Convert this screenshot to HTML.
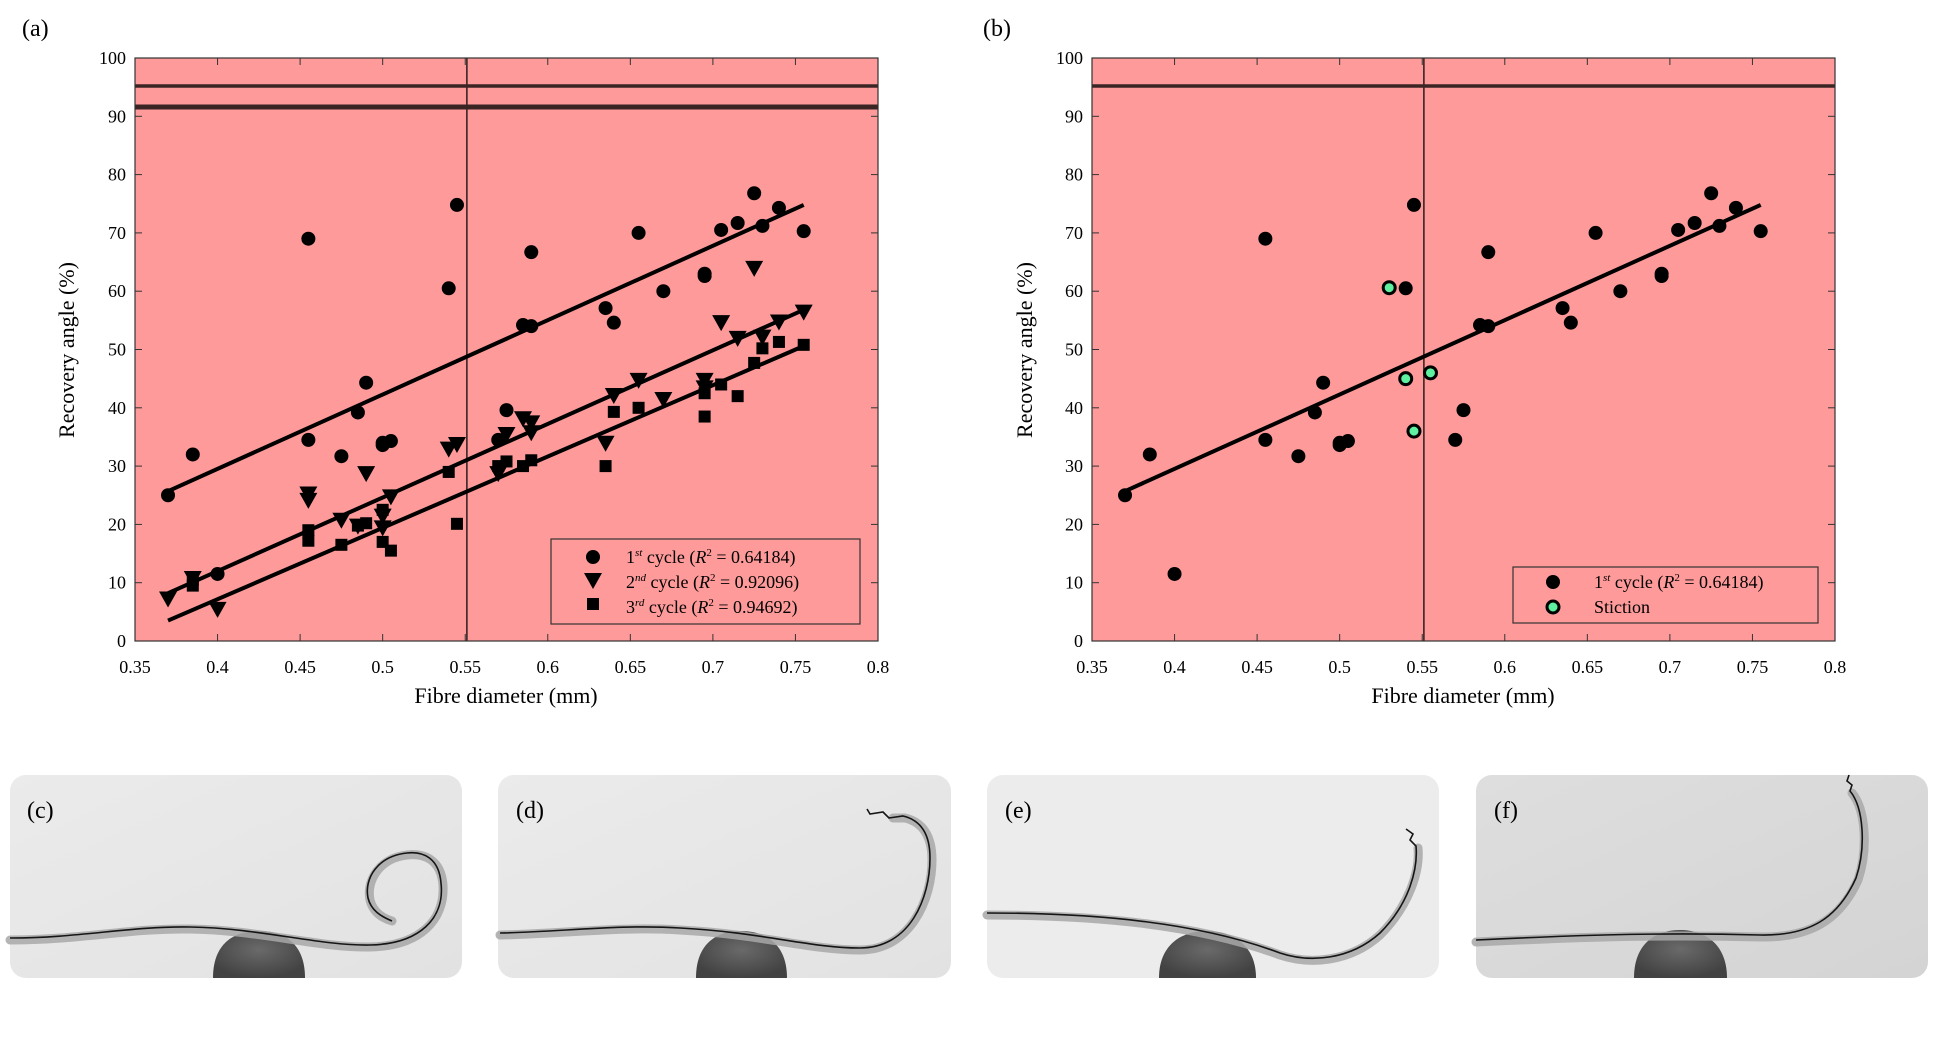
<!DOCTYPE html>
<html><head><meta charset="utf-8"><style>
html,body{margin:0;padding:0;background:#fff;}
svg{display:block;font-family:"Liberation Serif",serif;}
</style></head><body>
<svg id="s" width="1934" height="1042" viewBox="0 0 1934 1042" xmlns="http://www.w3.org/2000/svg">
<defs>
<linearGradient id="bgc" x1="0" y1="0" x2="1" y2="1"><stop offset="0" stop-color="#ebebeb"/><stop offset="1" stop-color="#e2e2e2"/></linearGradient>
<linearGradient id="bgf" x1="0" y1="0" x2="1" y2="1"><stop offset="0" stop-color="#dedede"/><stop offset="1" stop-color="#d4d4d4"/></linearGradient>
<radialGradient id="sph" cx="0.5" cy="0.4" r="0.6"><stop offset="0" stop-color="#6a6a6a"/><stop offset="1" stop-color="#424242"/></radialGradient>
</defs>
<g id="pa"></g><g id="pb"></g>
<text x="22" y="36" font-size="24">(a)</text>
<text x="983" y="36" font-size="24">(b)</text>
<g font-size="18" text-anchor="end" id="ytl"></g>
<g font-size="18" text-anchor="middle" id="xtl"></g>
<text x="506" y="703" font-size="22" text-anchor="middle">Fibre diameter (mm)</text>
<text x="1463" y="703" font-size="22" text-anchor="middle">Fibre diameter (mm)</text>
<text transform="translate(74,350) rotate(-90)" font-size="22" text-anchor="middle">Recovery angle (%)</text>
<text transform="translate(1032,350) rotate(-90)" font-size="22" text-anchor="middle">Recovery angle (%)</text>
<rect x="551" y="539" width="309" height="85" fill="none" stroke="#333" stroke-width="1.2"/>
<circle cx="593" cy="557" r="7"/>
<path d="M584,573 L602,573 L593,589 Z"/>
<rect x="587" y="598" width="12" height="12"/>
<text x="626" y="563" font-size="18">1<tspan font-size="11" dy="-7" font-style="italic">st</tspan><tspan dy="7"> cycle (</tspan><tspan font-style="italic">R</tspan><tspan font-size="11" dy="-7">2</tspan><tspan dy="7"> = 0.64184)</tspan></text>
<text x="626" y="588" font-size="18">2<tspan font-size="11" dy="-7" font-style="italic">nd</tspan><tspan dy="7"> cycle (</tspan><tspan font-style="italic">R</tspan><tspan font-size="11" dy="-7">2</tspan><tspan dy="7"> = 0.92096)</tspan></text>
<text x="626" y="613" font-size="18">3<tspan font-size="11" dy="-7" font-style="italic">rd</tspan><tspan dy="7"> cycle (</tspan><tspan font-style="italic">R</tspan><tspan font-size="11" dy="-7">2</tspan><tspan dy="7"> = 0.94692)</tspan></text>
<rect x="1513" y="567" width="305" height="56" fill="none" stroke="#333" stroke-width="1.2"/>
<circle cx="1553" cy="582" r="7"/>
<circle cx="1553" cy="607" r="6" fill="#5ef0a0" stroke="#000" stroke-width="3"/>
<text x="1594" y="588" font-size="18">1<tspan font-size="11" dy="-7" font-style="italic">st</tspan><tspan dy="7"> cycle (</tspan><tspan font-style="italic">R</tspan><tspan font-size="11" dy="-7">2</tspan><tspan dy="7"> = 0.64184)</tspan></text>
<text x="1594" y="613" font-size="18">Stiction</text>

<g>
<rect x="10" y="775" width="452" height="203" rx="16" fill="url(#bgc)"/>
<rect x="498" y="775" width="453" height="203" rx="16" fill="url(#bgc)"/>
<rect x="987" y="775" width="452" height="203" rx="16" fill="#ececec"/>
<rect x="1476" y="775" width="452" height="203" rx="16" fill="url(#bgf)"/>
<path d="M213,978 C213,945 232,931 259,931 C286,931 305,945 305,978 Z" fill="url(#sph)"/>
<path d="M696,978 C696,945 715,931 741,931 C767,931 787,945 787,978 Z" fill="url(#sph)"/>
<path d="M1159,978 C1159,946 1180,931 1207,931 C1234,931 1256,946 1256,978 Z" fill="url(#sph)"/>
<path d="M1634,978 C1634,945 1654,930 1680,930 C1706,930 1727,945 1727,978 Z" fill="url(#sph)"/>
<g fill="none" stroke="#a8a8a8" stroke-width="9" stroke-linecap="round" opacity="0.85">
<path d="M10,940 C80,940 130,928 190,929 C260,930 320,948 370,947 C420,946 445,920 443,885 C441,860 425,853 407,855 C380,858 366,880 370,900 C373,912 382,918 392,921"/>
<path d="M500,935 C560,934 620,926 680,930 C760,934 810,950 860,950 C910,950 932,900 932,860 C932,835 922,822 905,818 L893,818"/>
<path d="M987,915 C1100,915 1200,925 1280,955 C1310,965 1350,962 1380,935 C1410,905 1420,870 1418,848"/>
<path d="M1476,942 C1560,938 1650,934 1760,937 C1810,938 1840,920 1858,880 C1868,850 1866,810 1852,793"/>
</g>
<g fill="none" stroke="#151515" stroke-width="1.6">
<path d="M10,938 C80,938 130,926 190,927 C260,928 320,946 370,945 C420,944 445,918 441,883 C439,858 423,851 407,853 C378,856 364,878 368,898 C371,910 380,916 392,921"/>
<path d="M500,933 C560,932 620,924 680,928 C760,932 810,948 860,948 C910,948 930,898 930,858 C930,833 920,820 903,816 L889,818 L883,812 L870,814 L867,809"/>
<path d="M987,913 C1100,913 1200,923 1280,953 C1310,963 1350,960 1380,933 C1410,903 1418,868 1416,846 L1410,840 L1413,834 L1406,829"/>
<path d="M1476,940 C1560,936 1650,932 1760,935 C1810,936 1838,918 1856,878 C1866,848 1864,808 1850,791 L1852,785 L1847,781 L1849,775"/>
</g>
<g font-size="24"><text x="27" y="818">(c)</text><text x="516" y="818">(d)</text><text x="1005" y="818">(e)</text><text x="1494" y="818">(f)</text></g>
</g>
</svg>
<script>
var NS="http://www.w3.org/2000/svg";
function el(p,t,a){var e=document.createElementNS(NS,t);for(var k in a)e.setAttribute(k,a[k]);p.appendChild(e);return e;}
var T=58,B=641,H=B-T,W=743;
var c1=[[0.37,25],[0.385,32],[0.4,11.5],[0.455,69],[0.455,34.5],[0.475,31.7],[0.485,39.2],[0.49,44.3],[0.5,34],[0.5,33.6],[0.505,34.3],[0.54,60.5],[0.545,74.8],[0.57,34.5],[0.575,39.6],[0.585,54.2],[0.59,54],[0.59,66.7],[0.635,57.1],[0.64,54.6],[0.655,70],[0.67,60],[0.695,63],[0.695,62.6],[0.705,70.5],[0.715,71.7],[0.725,76.8],[0.73,71.2],[0.74,74.3],[0.755,70.3]];
var c2=[[0.37,7.3],[0.385,10.8],[0.4,5.5],[0.455,25.3],[0.455,24.2],[0.475,20.8],[0.485,19.8],[0.49,28.8],[0.5,21.5],[0.5,19.5],[0.505,24.8],[0.54,33],[0.545,33.8],[0.57,28.8],[0.575,35.5],[0.585,38.2],[0.59,37.5],[0.59,35.8],[0.635,34],[0.64,42.2],[0.655,44.8],[0.67,41.5],[0.695,44.8],[0.695,43.5],[0.705,54.7],[0.715,52],[0.725,64],[0.73,52.2],[0.74,54.8],[0.755,56.5]];
var c3=[[0.385,9.5],[0.385,10.5],[0.455,19],[0.455,17.2],[0.475,16.5],[0.485,19.8],[0.49,20.2],[0.5,22.5],[0.5,17],[0.505,15.5],[0.54,29],[0.545,20.1],[0.575,30.8],[0.57,30],[0.585,30],[0.59,31],[0.635,30],[0.64,39.3],[0.655,40],[0.695,38.5],[0.695,42.5],[0.705,44],[0.715,42],[0.725,47.7],[0.73,50.2],[0.74,51.3],[0.755,50.8]];
var st=[[0.53,60.6],[0.54,45],[0.545,36],[0.555,46]];
function plot(g,L,isA){
 var X=function(v){return L+(v-0.35)/0.45*W},Y=function(v){return B-v/100*H};
 el(g,"rect",{x:L,y:T,width:W,height:H,fill:"#fe9a9a"});
 el(g,"line",{x1:L,x2:L+W,y1:Y(95.2),y2:Y(95.2),stroke:"#3b2424","stroke-width":3.5});
 if(isA)el(g,"line",{x1:L,x2:L+W,y1:Y(91.6),y2:Y(91.6),stroke:"#3b2424","stroke-width":5});
 el(g,"line",{x1:X(0.551),x2:X(0.551),y1:T,y2:B,stroke:"#3b2424","stroke-width":1.6});
 for(var i=0;i<=10;i++){var y=Y(i*10);el(g,"line",{x1:L,x2:L+7,y1:y,y2:y,stroke:"#333"});el(g,"line",{x1:L+W,x2:L+W-7,y1:y,y2:y,stroke:"#333"});
  var t=el(document.getElementById("ytl"),"text",{x:L-9,y:y+6});t.textContent=String(i*10);}
 var xl=["0.35","0.4","0.45","0.5","0.55","0.6","0.65","0.7","0.75","0.8"];
 for(var i=0;i<10;i++){var x=X(0.35+i*0.05);el(g,"line",{x1:x,x2:x,y1:B,y2:B-7,stroke:"#333"});el(g,"line",{x1:x,x2:x,y1:T,y2:T+7,stroke:"#333"});
  var t=el(document.getElementById("xtl"),"text",{x:x,y:673});t.textContent=xl[i];}
 el(g,"rect",{x:L,y:T,width:W,height:H,fill:"none",stroke:"#333","stroke-width":1.2});
 el(g,"line",{x1:X(0.37),y1:Y(25.7),x2:X(0.755),y2:Y(74.8),stroke:"#000","stroke-width":4});
 c1.forEach(function(p){el(g,"circle",{cx:X(p[0]),cy:Y(p[1]),r:7});});
 if(isA){
  el(g,"line",{x1:X(0.37),y1:Y(8.2),x2:X(0.755),y2:Y(56.8),stroke:"#000","stroke-width":4});
  el(g,"line",{x1:X(0.37),y1:Y(3.5),x2:X(0.755),y2:Y(50.6),stroke:"#000","stroke-width":4});
  c2.forEach(function(p){var x=X(p[0]),y=Y(p[1]);el(g,"path",{d:"M"+(x-9)+","+(y-7)+" L"+(x+9)+","+(y-7)+" L"+x+","+(y+9)+" Z"});});
  c3.forEach(function(p){var x=X(p[0]),y=Y(p[1]);el(g,"rect",{x:x-6,y:y-6,width:12,height:12});});
 } else {
  st.forEach(function(p){el(g,"circle",{cx:X(p[0]),cy:Y(p[1]),r:6,fill:"#5ef0a0",stroke:"#000","stroke-width":3});});
 }
}
plot(document.getElementById("pa"),135,true);
plot(document.getElementById("pb"),1092,false);
</script>
</body></html>
